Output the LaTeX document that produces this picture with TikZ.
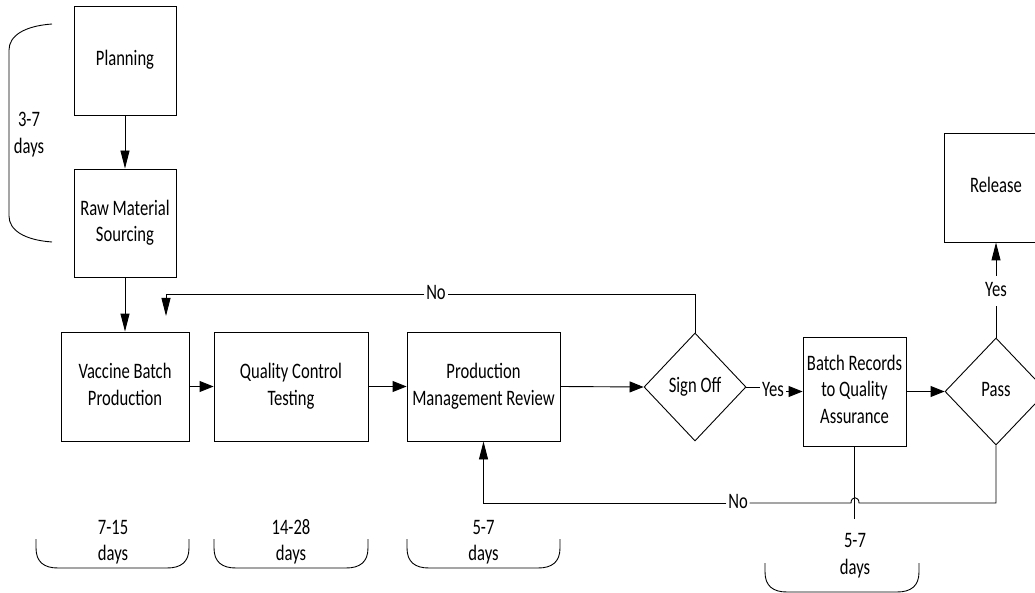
\documentclass[tikz,border=0pt]{standalone}
\usepackage{fontspec}
\setmainfont{Carlito}
\usepackage{graphicx}
\usetikzlibrary{arrows.meta,shapes.geometric}
\newcommand\stt[1]{\scalebox{1}[1.33]{\begin{tabular}{@{}c@{}}#1\end{tabular}}}
\tikzset{
  box/.style={draw, rectangle, inner sep=0pt, align=center},
  dia/.style={draw, diamond, inner sep=0pt, minimum width=102pt},
  lbl/.style={inner sep=1.5pt},
  harr/.style={-{Triangle[length=14pt,width=11pt]}},
  varr/.style={-{Triangle[length=18pt,width=9pt]}},
  brk/.style={draw},
}
\newcommand\ubrack[3]{% x1, x2, ytop
  \draw[brk] (#1,#3) -- ++(0,9) .. controls +(0,14) and +(-14,0) .. ++(22,20)
    -- (#2-22,#3+29) .. controls +(14,0) and +(0,14) .. (#2,#3+9) -- (#2,#3);}
\begin{document}
\begin{tikzpicture}[x=1pt, y=-1pt, line width=0.9pt, font=\fontsize{16.6}{19.9}\selectfont]
\useasboundingbox (0,0) rectangle (1035,593);
\clip (0,0) rectangle (1035,593);

% nodes
\node[box, minimum width=102pt, minimum height=109pt] (plan) at (125,60.5) {\stt{Planning}};
\node[box, minimum width=102pt, minimum height=108pt] (raw) at (125,223) {\stt{Raw Material\\Sourcing}};
\node[box, minimum width=128pt, minimum height=109pt] (vbp) at (125,386.5) {\stt{Vaccine Batch\\Production}};
\node[box, minimum width=154pt, minimum height=109pt] (qct) at (291,386.5) {\stt{Quality Control\\Testing}};
\node[box, minimum width=153pt, minimum height=109pt] (pmr) at (483.5,386.5) {\stt{Production\\Management Review}};
\node[dia, minimum height=108pt] (sign) at (695,387) {\stt{Sign Off}};
\node[box, minimum width=103pt, minimum height=109pt] (bra) at (854.5,391.5) {\stt{Batch Records\\to Quality\\Assurance}};
\node[dia, minimum height=107pt] (pass) at (996,391.5) {\stt{Pass}};
\node[box, minimum width=104pt, minimum height=109pt] (rel) at (996,187.5) {\stt{Release}};

% labels
\node[lbl] (no1) at (436,294) {\stt{No}};
\node[lbl] (no2) at (738,503) {\stt{No}};
\node[lbl] (yes1) at (773,391) {\stt{Yes}};
\node[lbl] (yes2) at (996,291) {\stt{Yes}};

% connectors
\draw[varr] (plan) -- (raw);
\draw[varr] (raw) -- (vbp);
\draw[harr] (vbp) -- (qct);
\draw[harr] (qct) -- (pmr);
\draw[harr] (pmr.east) -- (sign.west);
\draw (sign.east) -- (sign.east -| yes1.west);
\draw[harr] (yes1.east |- bra.west) -- (bra.west);
\draw[harr] (bra.east) -- (pass.west);
\draw (pass.north) -- (yes2.south);
\draw[varr] (yes2.north) -- (rel.south);

\coordinate (noEnd) at (166,316);
\draw (sign.north) |- (no1.east);
\draw[varr] (no1.west) -| (noEnd);

\coordinate (hopR) at (859,503);
\coordinate (hopL) at (851,503);
\draw (pass.south) |- (hopR) .. controls (859,496) and (851,496) .. (hopL) -- (no2.east);
\draw[varr] (no2.west) -| (pmr.south);

\coordinate (braEnd) at (854.5,519);
\draw (bra.south) -- (braEnd);

% durations
\draw[brk] (52,24) .. controls (24,26) and (9,36) .. (9,50) -- (9,216)
  .. controls (9,230) and (24,240) .. (52,242);
\node (d0) at (29,134.5) {\stt{3-7\\days}};

\ubrack{36}{189}{539}
\node (d1) at (113,542) {\stt{7-15\\days}};
\ubrack{214}{368}{539}
\node (d2) at (291,542) {\stt{14-28\\days}};
\ubrack{407}{560}{539}
\node (d3) at (483.5,542) {\stt{5-7\\days}};
\ubrack{765}{919}{563}
\node (d4) at (855,555.5) {\stt{5-7\\days}};
\end{tikzpicture}
\end{document}
